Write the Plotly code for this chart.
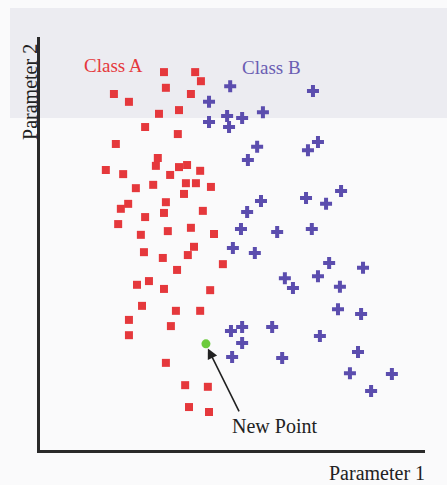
import plotly.graph_objects as go

# Class A (red squares): Parameter 1, Parameter 2
class_a_x = [32.2, 40.3, 41.8, 32.7, 39.2, 19.2, 23.1, 30.9, 36.1, 27.3, 35.8, 19.7,
             30.6, 30.1, 17.1, 21.6, 33.8, 36.1, 38.2, 41.6, 24.9, 29.4, 37.9, 40.5,
             44.4, 37.4, 32.7, 22.9, 21.0, 32.2, 42.3, 27.3, 20.3, 33.2, 39.2, 26.2,
             45.2, 40.0, 27.0, 38.4, 31.9, 47.5, 35.6, 28.3, 25.2, 32.2, 44.2, 26.5,
             35.3, 41.6, 23.1, 34.0, 23.1, 32.7, 37.7, 43.6, 38.7, 43.9]
class_a_y = [91.5, 91.5, 89.3, 87.7, 86.2, 86.2, 84.3, 81.4, 82.3, 78.2, 76.5, 74.1,
             70.7, 68.8, 67.8, 66.8, 66.6, 68.5, 69.0, 67.6, 63.4, 64.2, 64.6, 64.6,
             63.7, 62.0, 60.0, 59.6, 58.4, 57.4, 57.9, 56.4, 54.7, 53.0, 53.8, 52.1,
             52.3, 49.2, 47.9, 47.2, 46.5, 45.0, 43.6, 40.9, 40.0, 39.0, 38.7, 34.9,
             33.7, 33.7, 31.5, 30.0, 27.8, 21.1, 15.7, 15.3, 10.4, 9.2]

# Class B (purple crosses)
class_b_x = [49.4, 70.9, 43.9, 57.9, 48.6, 52.5, 43.9, 49.1, 56.4, 69.6, 72.2, 54.0,
             78.2, 57.4, 69.1, 74.3, 53.8, 52.2, 61.6, 70.6, 50.1, 55.8, 75.1, 83.9,
             63.6, 72.2, 65.7, 77.9, 77.4, 83.4, 49.6, 52.5, 60.3, 52.5, 72.7, 49.9,
             62.9, 82.6, 80.5, 91.4, 86.0]
class_b_y = [88.1, 86.9, 84.3, 81.8, 80.9, 80.4, 79.4, 78.2, 73.4, 72.6, 74.6, 70.2,
             62.7, 60.3, 61.0, 59.6, 57.6, 53.5, 52.8, 53.5, 48.9, 47.7, 45.3, 44.1,
             41.6, 42.1, 39.2, 39.5, 34.1, 32.9, 28.8, 29.8, 29.8, 25.9, 27.6, 22.5,
             22.3, 23.7, 18.6, 18.4, 14.3]

new_point_x = [43.1]
new_point_y = [25.7]

RED = "#E5383C"
BLUE = "#5B4DAE"
GREEN = "#6CCB3C"
SERIF = "Liberation Serif, Times New Roman, serif"

fig = go.Figure()

fig.add_trace(go.Scatter(
    x=class_a_x, y=class_a_y, mode="markers", name="Class A",
    marker=dict(symbol="square", size=8, color=RED, line=dict(width=0)),
))
fig.add_trace(go.Scatter(
    x=class_b_x, y=class_b_y, mode="markers", name="Class B",
    marker=dict(symbol="cross", size=10, color=BLUE, line=dict(width=0)),
))
fig.add_trace(go.Scatter(
    x=new_point_x, y=new_point_y, mode="markers", name="New Point",
    marker=dict(symbol="circle", size=9, color=GREEN, line=dict(width=0)),
))

annotations = [
    dict(x=19.0, y=93.2, xref="x", yref="y", text="Class A", showarrow=False,
         font=dict(family=SERIF, size=19, color=RED)),
    dict(x=60.0, y=92.5, xref="x", yref="y", text="Class B", showarrow=False,
         font=dict(family=SERIF, size=19, color="#6A5DB3")),
    # arrow
    dict(x=43.6, y=24.6, xref="x", yref="y", ax=51.9, ay=9.0, axref="x", ayref="y",
         text="", showarrow=True, arrowhead=2, arrowsize=1.3, arrowwidth=1.6,
         arrowcolor="#222222"),
    dict(x=61.0, y=5.8, xref="x", yref="y", text="New Point", showarrow=False,
         font=dict(family=SERIF, size=20, color="#222222")),
    dict(x=1.005, y=-0.056, xref="paper", yref="paper", text="Parameter 1",
         showarrow=False, xanchor="right", yanchor="middle",
         font=dict(family=SERIF, size=20, color="#222222")),
    dict(x=-0.026, y=0.867, xref="paper", yref="paper", text="Parameter 2",
         showarrow=False, textangle=-90, xanchor="center", yanchor="middle",
         font=dict(family=SERIF, size=20, color="#222222")),
]

shapes = [
    # slightly grey upper part of the photographed page
    dict(type="rect", xref="paper", yref="paper", x0=-0.078, x1=1.06,
         y0=(450 - 118) / 413, y1=(450 - 8) / 413, fillcolor="#ECECF1",
         line=dict(width=0), layer="below"),
]

fig.update_layout(
    width=447, height=485,
    margin=dict(l=40, r=22, t=37, b=35),
    paper_bgcolor="#FAFAFB",
    plot_bgcolor="rgba(0,0,0,0)",
    showlegend=False,
    annotations=annotations,
    shapes=shapes,
    xaxis=dict(range=[0, 100], showgrid=False, zeroline=False, showticklabels=False,
               ticks="", showline=True, linewidth=3, linecolor="#2a2a2a"),
    yaxis=dict(range=[0, 100], showgrid=False, zeroline=False, showticklabels=False,
               ticks="", showline=True, linewidth=3, linecolor="#2a2a2a"),
)

fig.write_html("out.html", config={"displayModeBar": False},
               post_script="document.body.style.margin='0px';document.body.style.overflow='hidden';")
